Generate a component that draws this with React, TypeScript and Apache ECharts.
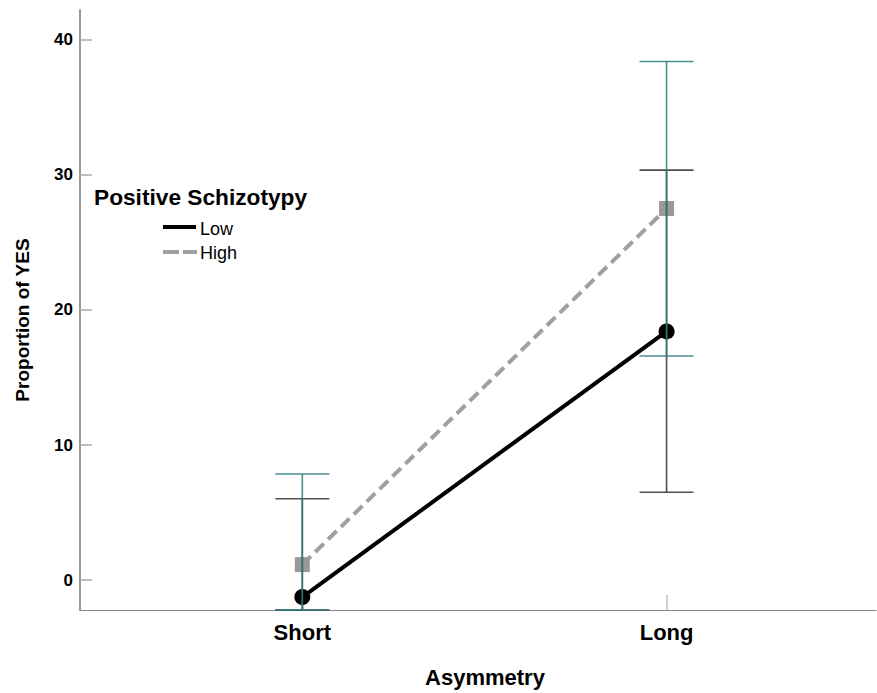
import React, { useEffect, useRef } from "react";
import * as echarts from "echarts";

const categories = ["Short", "Long"];
const lowMean = [-1.25, 18.41];
const highMean = [1.15, 27.51];
const lowCiLower = [-2.21, 6.51];
const lowCiUpper = [6.02, 30.35];
const highCiLower = [-2.21, 16.59];
const highCiUpper = [7.86, 38.39];
const yTicks = [0, 10, 20, 30, 40];

const FONT = "'Liberation Sans', Arial, sans-serif";

export default function App() {
  const ref = useRef<HTMLDivElement>(null);
  useEffect(() => {
    if (!ref.current) return;
    const chart = echarts.init(ref.current, null, { renderer: "svg" });
    const xs = categories.map((_, i) => i + 1);
    const errItem = (color: string, opacity: number) => (params: any, api: any) => {
      const x = api.value(0);
      const p1 = api.coord([x, api.value(1)]);
      const p2 = api.coord([x, api.value(2)]);
      const hw = 27;
      const style = { stroke: color, lineWidth: 1.6, opacity };
      return {
        type: "group",
        children: [
          { type: "line", shape: { x1: p1[0], y1: p1[1], x2: p2[0], y2: p2[1] }, style },
          { type: "line", shape: { x1: p1[0] - hw, y1: p1[1], x2: p1[0] + hw, y2: p1[1] }, style },
          { type: "line", shape: { x1: p2[0] - hw, y1: p2[1], x2: p2[0] + hw, y2: p2[1] }, style },
        ],
      };
    };
    chart.setOption({
      animation: false,
      grid: { left: 80, right: 1, top: 10, bottom: 81, containLabel: false },
      xAxis: {
        type: "value",
        min: 0.3896,
        max: 2.575,
        name: "Asymmetry",
        nameLocation: "middle",
        nameGap: 56,
        nameTextStyle: { fontFamily: FONT, fontSize: 22, fontWeight: "bold", color: "#000", padding: [0, 0, 0, 14] },
        axisLine: { onZero: false, lineStyle: { color: "#888", width: 1.2 } },
        axisTick: { show: true, inside: true, length: 15, customValues: xs, lineStyle: { color: "#cfcfcf", width: 2 } },
        axisLabel: {
          customValues: xs,
          formatter: (v: number) => categories[Math.round(v) - 1] ?? "",
          fontFamily: FONT,
          fontSize: 22,
          fontWeight: "bold",
          color: "#000",
          margin: 11,
        },
        splitLine: { show: false },
      },
      yAxis: {
        type: "value",
        min: -2.21,
        max: 42.2,
        name: "Proportion of YES",
        nameLocation: "middle",
        nameGap: 48,
        nameTextStyle: { fontFamily: FONT, fontSize: 19, fontWeight: "bold", color: "#000", padding: [0, 20, 0, 0] },
        axisLine: { onZero: false, lineStyle: { color: "#999", width: 2 } },
        axisTick: { show: true, inside: true, length: 12, customValues: yTicks, lineStyle: { color: "#aaa", width: 1.5 } },
        axisLabel: {
          customValues: yTicks,
          fontFamily: FONT,
          fontSize: 17,
          fontWeight: "bold",
          color: "#000",
          margin: 7,
        },
        splitLine: { show: false },
      },
      series: [
        {
          type: "line",
          name: "Low",
          data: xs.map((x, i) => [x, lowMean[i]]),
          symbol: "circle",
          symbolSize: 16,
          lineStyle: { color: "#000", width: 4 },
          itemStyle: { color: "#000" },
          z: 3,
        },
        {
          type: "line",
          name: "High",
          data: xs.map((x, i) => [x, highMean[i]]),
          symbol: "rect",
          symbolSize: 15,
          lineStyle: { color: "#a0a0a0", width: 4, type: [12, 6] },
          itemStyle: { color: "#999" },
          z: 2,
        },
        {
          type: "custom",
          name: "Low CI",
          renderItem: errItem("#3c3c3c", 0.9),
          data: xs.map((x, i) => [x, lowCiLower[i], lowCiUpper[i]]),
          encode: { x: 0, y: [1, 2] },
          z: 5,
        },
        {
          type: "custom",
          name: "High CI",
          renderItem: errItem("#2b7d7d", 0.85),
          data: xs.map((x, i) => [x, highCiLower[i], highCiUpper[i]]),
          encode: { x: 0, y: [1, 2] },
          z: 6,
        },
      ],
      graphic: [
        {
          type: "text",
          left: 94,
          top: 185,
          style: { text: "Positive Schizotypy", font: `bold 22.7px ${FONT}`, fill: "#000" },
        },
        { type: "line", shape: { x1: 163, y1: 227, x2: 196, y2: 227 }, style: { stroke: "#000", lineWidth: 4 } },
        {
          type: "line",
          shape: { x1: 163, y1: 252, x2: 197, y2: 252 },
          style: { stroke: "#a0a0a0", lineWidth: 4, lineDash: [16, 4] },
        },
        { type: "text", left: 200, top: 220, style: { text: "Low", font: `18px ${FONT}`, fill: "#000" } },
        { type: "text", left: 200, top: 244, style: { text: "High", font: `18px ${FONT}`, fill: "#000" } },
      ],
    });
    return () => chart.dispose();
  }, []);
  return <div ref={ref} style={{ width: 877, height: 693, position: "absolute", left: 0, top: 0 }} />;
}
